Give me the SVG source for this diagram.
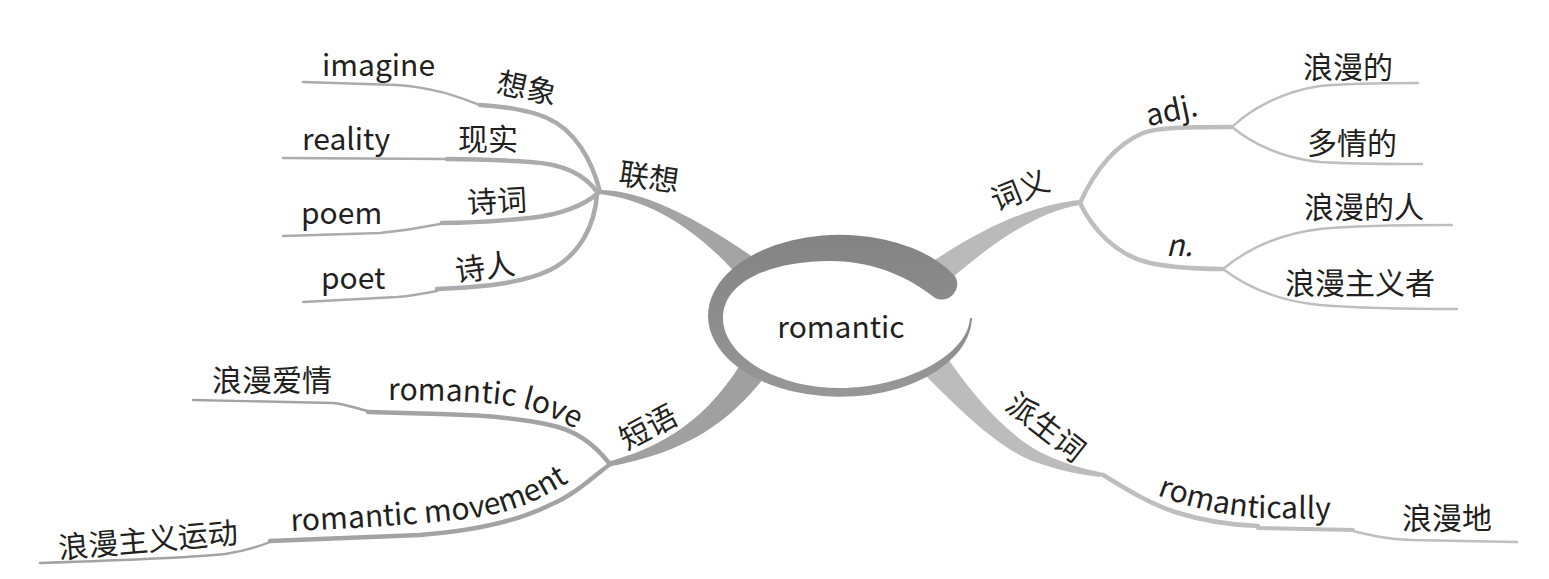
<svg xmlns="http://www.w3.org/2000/svg" width="1549" height="579" viewBox="0 0 1549 579">
<style>
text{fill:#231f20;font-family:"Noto Sans CJK SC","Noto Sans",sans-serif}
.en{font-size:30px}
.cn{font-size:30px}
.m{text-anchor:middle}
.c1{fill:none;stroke:#ababab;stroke-linecap:round}
.c2{fill:none;stroke:#bebebe;stroke-linecap:round}
.c3{fill:none;stroke:#a3a3a3;stroke-linecap:round}
.w1{stroke-width:4.5}
.w2{stroke-width:2.4}
</style>
<defs>
<linearGradient id="ringg" x1="0" y1="0" x2="0" y2="1">
<stop offset="0" stop-color="#838383"/>
<stop offset="1" stop-color="#979797"/>
</linearGradient>
<path id="tp-love" d="M388,400 C440,400 490,402 513,406 C538,411 560,419 592,438"/>
<path id="tp-move" d="M291,531 C360,528 430,524 480,517 C515,511 545,499 580,474"/>
<path id="tp-ly" d="M1157,495 C1185,506 1220,515 1260,518 L1345,519"/>
</defs>
<g id="connectors">
<path d="M597,190 C630,189 680,205 760,262 L740,278 C700,232 650,198 597,194 Z" fill="#a4a4a4"/>
<path d="M1080,200 C1040,204 990,222 926,266 L946,283 C990,245 1035,212 1080,205 Z" fill="#bababa"/>
<path d="M607,462 C650,450 700,430 742,362 L764,378 C730,420 690,452 607,467 Z" fill="#a0a0a0"/>
<path d="M946,356 C970,390 1000,430 1040,452 C1065,465 1090,470 1104,473 L1100,477 C1075,474 1050,468 1030,460 C995,445 960,410 924,374 Z" fill="#bcbcbc"/>
<path class="c1 w2" d="M480,105 C465,100 440,88 397,85 L303,82"/>
<path class="c1 w1" d="M600,192 C592,160 575,130 547,118 C530,110 500,106 480,105"/>
<path class="c1 w2" d="M447,159 L283,158"/>
<path class="c1 w1" d="M598,193 C585,175 565,164 530,162 C500,160 470,159 447,159"/>
<path class="c1 w2" d="M440,224 C420,228 400,231 380,233 L283,236"/>
<path class="c1 w1" d="M598,193 C585,205 560,215 530,218 C490,222 460,223 442,223"/>
<path class="c1 w2" d="M437,291 C420,294 410,296 397,297 L303,302"/>
<path class="c1 w1" d="M597,194 C595,225 580,255 550,270 C525,282 490,287 437,289"/>
<path class="c2 w1" d="M1080,203 C1095,170 1115,145 1143,133 C1160,127 1190,127 1232,127"/>
<path class="c2 w2" d="M1232,127 C1250,110 1280,92 1320,86 C1350,83 1390,83 1418,83"/>
<path class="c2 w2" d="M1232,127 C1250,142 1280,158 1320,162 C1350,164 1390,164 1422,164"/>
<path class="c2 w1" d="M1080,203 C1092,228 1115,255 1150,263 C1175,268 1200,269 1223,269"/>
<path class="c2 w2" d="M1223,269 C1240,255 1270,235 1320,229 C1360,225 1410,225 1452,225"/>
<path class="c2 w2" d="M1223,269 C1240,282 1270,300 1320,305 C1370,309 1420,309 1457,309"/>
<path class="c3 w2" d="M368,411 C355,408 345,404 333,403 L193,400"/>
<path class="c3 w1" d="M609,463 C595,445 575,430 550,425 C520,418 480,415 440,414 L368,412"/>
<path class="c3 w2" d="M270,542 C260,546 245,551 225,554 C190,558 100,561 40,563"/>
<path class="c3 w1" d="M609,465 C595,475 575,495 550,505 C510,525 460,532 420,535 L270,541"/>
<path class="c2 w1" d="M1103,475 C1120,485 1145,502 1175,512 C1200,520 1230,525 1258,526"/>
<path class="c2" stroke-width="4" d="M1258,528 L1353,530"/>
<path class="c2 w2" d="M1353,531 C1370,535 1385,539 1410,540 L1517,542"/>
</g>
<g id="node-center">
<path d="M972,318 L970,318 C968,355 905,388 840,388 C775,388 723,355 723,318 C723,282 770,261 830,261 C875,261 910,278 935,298 A15.5 15.5 0 0 0 955,276 A132 81 0 1 0 972,318 Z" fill="url(#ringg)"/>
<text class="en m" x="841" y="338">romantic</text>
</g>
<g id="node-lianxiang"><text class="cn m" transform="translate(649,177) rotate(8)" y="11">联想</text></g>
<g id="node-xiangxiang"><text class="cn m" transform="translate(527,88) rotate(12)" y="11">想象</text></g>
<g id="node-imagine"><text class="en" x="322" y="76">imagine</text></g>
<g id="node-xianshi"><text class="cn m" x="488" y="150">现实</text></g>
<g id="node-reality"><text class="en" x="302" y="150">reality</text></g>
<g id="node-shici"><text class="cn m" transform="translate(497,201) rotate(-3)" y="11">诗词</text></g>
<g id="node-poem"><text class="en" x="301" y="224">poem</text></g>
<g id="node-shiren"><text class="cn m" transform="translate(485,267) rotate(-8)" y="11">诗人</text></g>
<g id="node-poet"><text class="en" x="321" y="289">poet</text></g>
<g id="node-ciyi"><text class="cn m" transform="translate(1020,190) rotate(-22)" y="11">词义</text></g>
<g id="node-adj"><text class="en m" transform="translate(1172,113) rotate(-12)" y="8">adj.</text></g>
<g id="node-langmande"><text class="cn m" x="1348" y="78">浪漫的</text></g>
<g id="node-duoqingde"><text class="cn m" x="1352" y="154">多情的</text></g>
<g id="node-n"><text class="en" x="1166" y="256" font-style="italic">n.</text></g>
<g id="node-langmanderen"><text class="cn m" x="1364" y="218">浪漫的人</text></g>
<g id="node-langmanzhuyizhe"><text class="cn m" x="1360" y="294">浪漫主义者</text></g>
<g id="node-duanyu"><text class="cn m" transform="translate(648,427) rotate(-28)" y="11">短语</text></g>
<g id="node-romanticlove"><text class="en"><textPath href="#tp-love">romantic love</textPath></text></g>
<g id="node-langmanaiqing"><text class="cn m" x="272" y="391">浪漫爱情</text></g>
<g id="node-romanticmovement"><text class="en"><textPath href="#tp-move">romantic movement</textPath></text></g>
<g id="node-langmanzhuyiyundong"><text class="cn m" transform="translate(148,540) rotate(-5)" y="11">浪漫主义运动</text></g>
<g id="node-paishengci"><text class="cn m" transform="translate(1046,427) rotate(38)" y="11">派生词</text></g>
<g id="node-romantically"><text class="en"><textPath href="#tp-ly">romantically</textPath></text></g>
<g id="node-langmandi"><text class="cn m" x="1447" y="529">浪漫地</text></g>
</svg>
